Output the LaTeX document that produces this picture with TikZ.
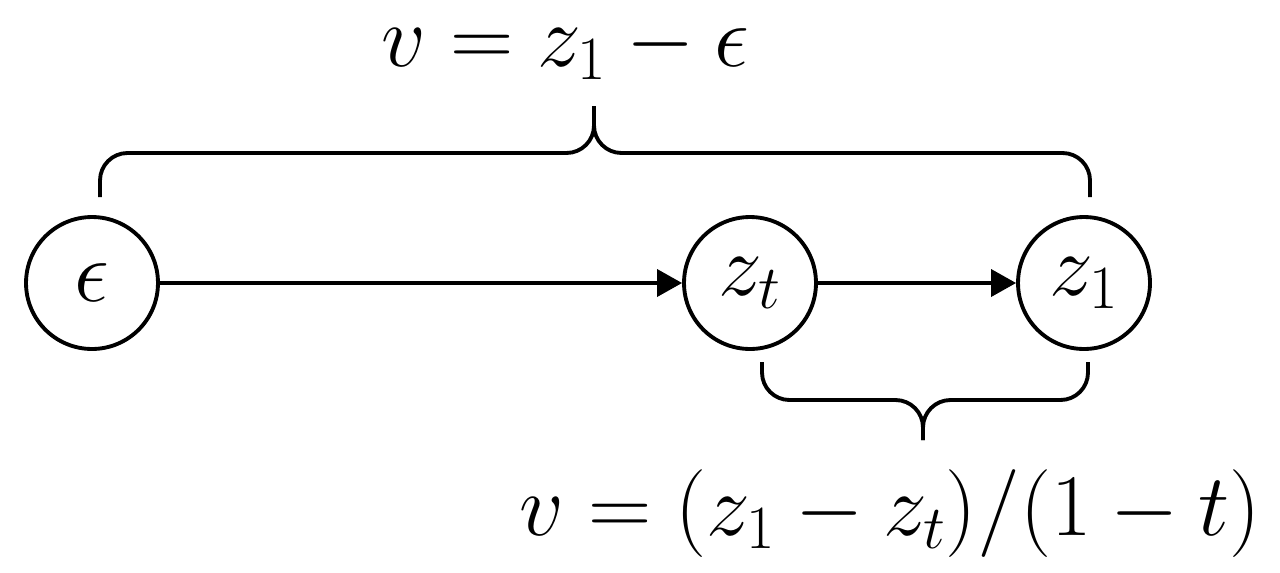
\documentclass[tikz,border=0pt]{standalone}
\usepackage{fix-cm}
\usepackage{amsmath}
\usetikzlibrary{arrows.meta}

\begin{document}
\begin{tikzpicture}[
        x=0.02cm, y=-0.02cm,
        every node/.append style={font=\fontsize{50}{60}\selectfont}
    ]
    \tikzstyle{st}=[draw,shape=circle,line width=2.2pt,minimum size=2.64cm,inner sep=0pt];
    \tikzstyle{flow}=[line width=2.1pt,-{Triangle[length=0.5cm,width=0.54cm]}];
    \tikzstyle{brace}=[line width=2.2pt,rounded corners=0.55cm];
    \tikzstyle{lbl}=[anchor=base,inner sep=0pt];
    \useasboundingbox (0,0) rectangle (1280,572);
    % states
    \node[st] (eps) at (92,283) {$\epsilon$};
    \node[st] (zt) at (750,283) {$z_t$};
    \node[st] (zone) at (1084,283) {$z_1$};
    \draw[flow] (eps) -- (zt);
    \draw[flow] (zt) -- (zone);
    % top brace
    \draw[brace] (100,197) -- (100,153) -- (594,153) -- (594,106);
    \draw[brace] (594,106) -- (594,153) -- (1090,153) -- (1090,197);
    \node[lbl] (vtop) at (565,66) {$v = z_1 - \epsilon$};
    % bottom brace
    \draw[brace] (762,362) -- (762,400) -- (923,400) -- (923,440);
    \draw[brace] (923,440) -- (923,400) -- (1088,400) -- (1088,362);
    \node[lbl] (vbot) at (890,535) {$v = (z_1 - z_t)/(1 - t)$};
\end{tikzpicture}
\end{document}
